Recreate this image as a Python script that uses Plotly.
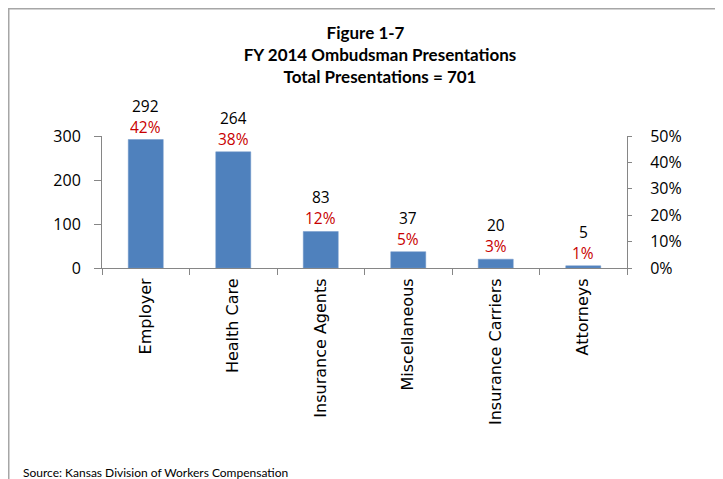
import plotly.graph_objects as go

# values
categories = ["Employer", "Health Care", "Insurance Agents", "Miscellaneous",
              "Insurance Carriers", "Attorneys"]
counts = [292, 264, 83, 37, 20, 5]
pct_labels = [42, 38, 12, 5, 3, 1]

BAR = "#4F81BD"
RED = "#C80000"
AXIS = "#868686"
FRAME = "#A6A6A6"

# the page adds an 8px body margin, so the figure is 8px smaller each way
W, H = 715, 471
L, R, T, B = 94, 96, 128, 211
PW, PH = W - L - R, H - T - B

fig = go.Figure()

fig.add_trace(go.Bar(
    x=categories, y=counts, width=0.4,
    marker=dict(color=BAR, line=dict(color="#6F97C8", width=0.5)),
    hoverinfo="skip", showlegend=False,
))

# invisible trace so the secondary percent axis gets drawn
fig.add_trace(go.Scatter(
    x=categories, y=[p / 100 for p in pct_labels], yaxis="y2",
    mode="markers", marker=dict(opacity=0), hoverinfo="skip", showlegend=False,
))

annotations = []
for cat, n, p in zip(categories, counts, pct_labels):
    # count (black) stacked over share (red)
    annotations.append(dict(
        x=cat, y=n, xref="x", yref="y", text=str(n), showarrow=False,
        yanchor="bottom", yshift=25, height=17, borderpad=0,
        font=dict(family="Open Sans", size=15.5, color="black"),
    ))
    annotations.append(dict(
        x=cat, y=n, xref="x", yref="y", text=f"{p}%", showarrow=False,
        yanchor="bottom", yshift=4, height=17, borderpad=0,
        font=dict(family="Open Sans", size=15.5, color=RED),
    ))

annotations.append(dict(
    text="Source: Kansas Division of Workers Compensation",
    xref="paper", yref="paper", x=(12.7 - L) / PW, y=(H - B - 464) / PH,
    xanchor="left", yanchor="middle", showarrow=False,
    font=dict(family="Lato", size=12, color="black"),
))

fig.update_layout(
    width=W, height=H,
    margin=dict(l=L, r=R, t=T, b=B),
    paper_bgcolor="white", plot_bgcolor="white",
    title=dict(
        text=("<b>Figure 1-7" + "&nbsp;" * 7 + "</b><br>"
              "<b>FY 2014 Ombudsman Presentations</b><br>"
              "<b>Total Presentations = 701</b>"),
        x=372 / W, xanchor="center",
        y=1 - 30.8 / H, yanchor="top", yref="container",
        font=dict(family="Lato", size=17, color="black"),
    ),
    bargap=0.6,
    showlegend=False,
    xaxis=dict(
        type="category",
        showline=True, linecolor=AXIS, linewidth=1,
        ticks="outside", tickson="boundaries", ticklen=6, tickcolor=AXIS,
        ticklabelstandoff=3,
        tickangle=-90, showgrid=False, zeroline=False,
        tickfont=dict(family="DejaVu Sans", size=16, color="black"),
    ),
    yaxis=dict(
        range=[0, 300], dtick=100,
        showline=True, linecolor=AXIS, linewidth=1,
        ticks="outside", ticklen=7, tickcolor=AXIS,
        ticklabelstandoff=10,
        showgrid=False, zeroline=False,
        tickfont=dict(family="Open Sans", size=16, color="black"),
    ),
    yaxis2=dict(
        overlaying="y", side="right",
        range=[0, 0.5], dtick=0.1, tickformat=".0%",
        showline=True, linecolor=AXIS, linewidth=1,
        ticks="outside", ticklen=4, tickcolor=AXIS,
        ticklabelstandoff=15,
        showgrid=False, zeroline=False,
        tickfont=dict(family="Open Sans", size=16, color="black"),
    ),
    annotations=annotations,
    shapes=[dict(
        type="rect", xref="paper", yref="paper",
        x0=(0.75 - L) / PW, x1=1.4, y0=-2.0, y1=(H - B - 0.75) / PH,
        line=dict(color=FRAME, width=1.5), fillcolor="rgba(0,0,0,0)",
        layer="below",
    )],
)

fig.write_html("out.html")
